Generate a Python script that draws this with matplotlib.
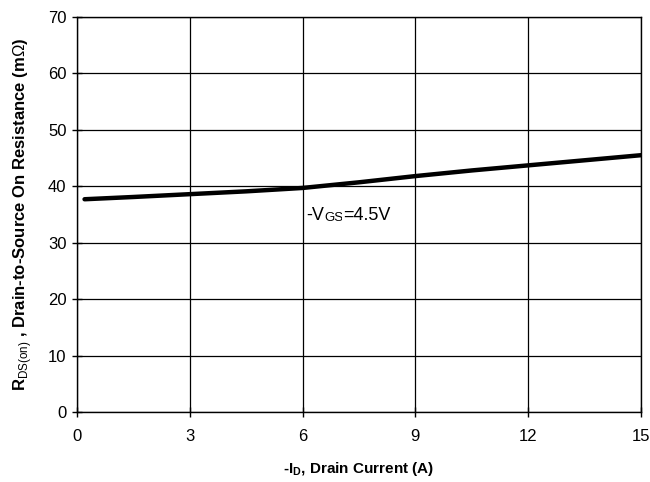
import matplotlib.pyplot as plt
from matplotlib import font_manager

# -ID (A) vs RDS(on) (mOhm) at -VGS = 4.5V
drain_current = [0.2, 1.5, 3, 4.5, 6, 7.5, 9, 10.5, 12, 13.5, 15]
rds_on = [37.7, 38.1, 38.6, 39.1, 39.7, 40.7, 41.8, 42.8, 43.7, 44.6, 45.5]

x_ticks = [0, 3, 6, 9, 12, 15]
y_ticks = [0, 10, 20, 30, 40, 50, 60, 70]

names = {f.name for f in font_manager.fontManager.ttflist}
narrow = "Liberation Sans Narrow" if "Liberation Sans Narrow" in names else "Liberation Sans"

plt.rcParams["font.family"] = [narrow, "DejaVu Sans"]
plt.rcParams["mathtext.fontset"] = "custom"
plt.rcParams["mathtext.rm"] = "Liberation Sans"
plt.rcParams["mathtext.bf"] = "Liberation Sans:bold"

fig = plt.figure(figsize=(6.5, 4.82), dpi=100)
ax = fig.add_axes([0.1185, 0.145, 0.8675, 0.82])

ax.plot(drain_current, rds_on, color="black", linewidth=3.2, solid_capstyle="round")

ax.set_xlim(0, 15)
ax.set_ylim(0, 70)
ax.set_xticks(x_ticks)
ax.set_yticks(y_ticks)
ax.grid(True, color="black", linewidth=0.9)
ax.set_axisbelow(True)
for s in ax.spines.values():
    s.set_linewidth(1.0)
ax.tick_params(direction="inout", length=7, width=1, labelsize=12, pad=4)
ax.tick_params(axis="x", pad=9)

ax.set_xlabel(r"-I$_{\mathbf{D}}$, Drain Current (A)", fontsize=11, fontweight="bold", labelpad=11)
ax.set_ylabel(r"R$_{\mathrm{DS(on)}}$ , Drain-to-Source On Resistance (m$\Omega$)",
              fontsize=12, fontweight="bold", family="Liberation Sans", labelpad=10)

# label with white background breaking the gridline
t1 = ax.text(6.1, 34.0, "-V", fontsize=13, ha="left", va="baseline", zorder=5,
             bbox=dict(facecolor="white", edgecolor="none", pad=1))
t2 = ax.annotate("GS", xy=(1, 0), xycoords=t1, fontsize=9.5, va="bottom", ha="left", zorder=5,
                 bbox=dict(facecolor="white", edgecolor="none", pad=1))
ax.annotate("=4.5V", xy=(1, 0), xycoords=t2, fontsize=13, va="bottom", ha="left", zorder=5,
            bbox=dict(facecolor="white", edgecolor="none", pad=1))

fig.savefig("out.png", dpi=100)
